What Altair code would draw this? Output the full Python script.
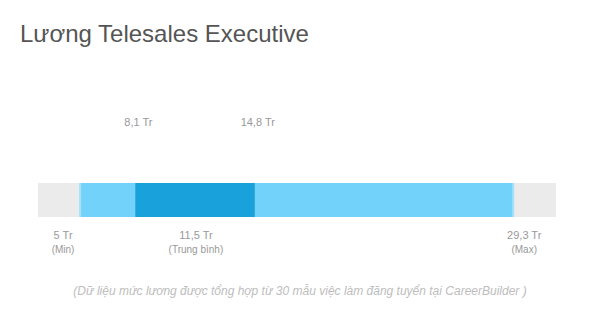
import altair as alt
import pandas as pd

title_text = "Lương Telesales Executive"
footer_text = "(Dữ liệu mức lương được tổng hợp từ 30 mẫu việc làm đăng tuyển tại CareerBuilder )"

# salary values (triệu đồng)
v_min = 5.0
v_p25 = 8.1
v_avg = 11.5
v_p75 = 14.8
v_max = 29.3
track = [2.64, 31.7]

top_labels = ["8,1 Tr", "14,8 Tr"]
top_values = [v_p25, v_p75]
bottom_labels = ["5 Tr", "11,5 Tr", "29,3 Tr"]
bottom_sub = ["(Min)", "(Trung bình)", "(Max)"]
bottom_values = [v_min, v_avg, v_max]
bottom_dx = [-17, 0, 11]

xs = alt.Scale(domain=track, range=[38, 556], nice=False, zero=False)
FONT = "Liberation Sans"
TXT = "#999999"

bars = pd.DataFrame({
    "start": [track[0], v_min, v_p25],
    "end": [track[1], v_max, v_p75],
    "color": ["#ebebeb", "#73d2f9", "#18a1db"],
    "order": [0, 1, 2],
})

base_bar = alt.Chart(bars).mark_rect().encode(
    x=alt.X("start:Q", scale=xs, axis=None),
    x2="end:Q",
    y=alt.value(183),
    y2=alt.value(217),
    color=alt.Color("color:N", scale=None),
    order="order:Q",
)

edges = pd.DataFrame({"v": [v_min, v_max]})
edge_marks = alt.Chart(edges).mark_rule(strokeWidth=2, color="#a6e1fa").encode(
    x=alt.X("v:Q", scale=xs, axis=None),
    y=alt.value(183),
    y2=alt.value(217),
)

top_df = pd.DataFrame({"v": top_values, "label": top_labels})
top_text = alt.Chart(top_df).mark_text(
    font=FONT, fontSize=11, color=TXT, dx=3, baseline="middle"
).encode(x=alt.X("v:Q", scale=xs, axis=None), y=alt.value(123), text="label:N")

bot_df = pd.DataFrame({"v": bottom_values, "label": bottom_labels, "sub": bottom_sub})
bot_layers = []
for i in range(len(bot_df)):
    row = bot_df.iloc[[i]]
    bot_layers.append(alt.Chart(row).mark_text(
        font=FONT, fontSize=11, color=TXT, dx=int(bottom_dx[i]), baseline="middle"
    ).encode(x=alt.X("v:Q", scale=xs, axis=None), y=alt.value(236), text="label:N"))
    bot_layers.append(alt.Chart(row).mark_text(
        font=FONT, fontSize=10, color=TXT, dx=int(bottom_dx[i]), baseline="middle"
    ).encode(x=alt.X("v:Q", scale=xs, axis=None), y=alt.value(250), text="sub:N"))

title_df = pd.DataFrame({"t": [title_text]})
title_mark = alt.Chart(title_df).mark_text(
    font=FONT, fontSize=24, color="#555555", align="left", baseline="alphabetic"
).encode(x=alt.value(20), y=alt.value(42), text="t:N")

foot_df = pd.DataFrame({"t": [footer_text]})
foot_mark = alt.Chart(foot_df).mark_text(
    font=FONT, fontSize=12, fontStyle="italic", color="#bdbdbd", align="center", baseline="middle"
).encode(x=alt.value(300), y=alt.value(291), text="t:N")

chart = alt.layer(base_bar, edge_marks, top_text, *bot_layers, title_mark, foot_mark).properties(
    width=600, height=315, padding=0, background="white",
    autosize=alt.AutoSizeParams(type="none")
).configure_view(stroke="transparent", strokeWidth=0)

chart.save("out.html", embed_options={"renderer": "svg", "actions": False})
